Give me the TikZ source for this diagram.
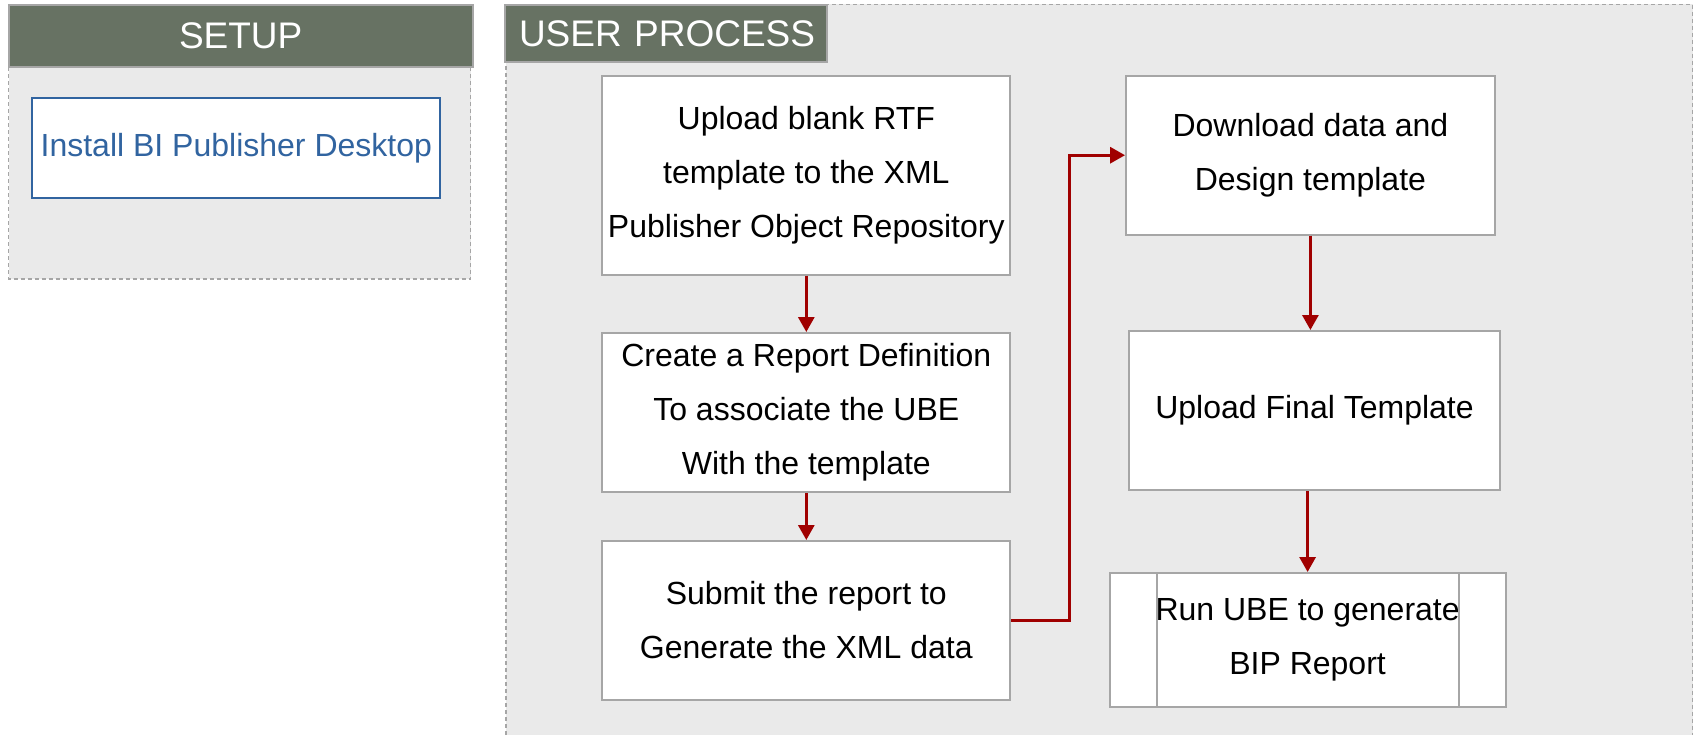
\documentclass[tikz,border=0pt]{standalone}
\usepackage{fontspec}
\setmainfont{Liberation Sans}
\usepackage{xcolor}
\usetikzlibrary{calc,arrows.meta}
\definecolor{headgreen}{RGB}{103,114,99}
\definecolor{panelgray}{RGB}{234,234,234}
\definecolor{edgegray}{RGB}{166,166,166}
\definecolor{bpblue}{RGB}{49,100,160}
\definecolor{flowred}{RGB}{160,0,0}
\tikzset{
panel/.style={draw=edgegray, dash pattern=on 2pt off 1.5pt, line width=0.7pt},
head/.style={fill=headgreen, draw=edgegray, line width=1pt, text=white, inner sep=0pt, font=\fontsize{18.5}{22}\selectfont},
task/.style={draw=edgegray, fill=white, line width=1pt, align=center, inner sep=0pt, minimum width=203.9pt, minimum height=79.5pt, font=\fontsize{16}{27}\selectfont},
flow/.style={draw=flowred, line width=1.5pt, -{Triangle[width=8pt,length=7.5pt]}}
}

\begin{document}
\begin{tikzpicture}[x=0.5pt,y=-0.5pt]
\useasboundingbox (0,0) rectangle (1696,735);
\fill[panelgray] (8.7,67) rectangle (470.5,279);
\draw[panel] (8.7,67) rectangle (470.5,279);
\fill[panelgray] (506,4.3) rectangle (1692.7,735);
\draw[panel] (506,735) -- (506,4.3) -- (1692.7,4.3) -- (1692.7,735);
\node[head, minimum width=232pt, minimum height=30.85pt] (setuphead) at (240.7,36.25) {SETUP};
\node[draw=bpblue, fill=white, line width=1pt, text=bpblue, inner sep=0pt, minimum width=203.9pt, minimum height=49.75pt, font=\fontsize{16}{20}\selectfont] (install) at (236.3,148.2) {Install BI Publisher Desktop};
\node[head, minimum height=28.1pt, inner xsep=7pt, text width=147.2pt, align=left] (userhead) at (666.2,33.5) {\mbox{USER PROCESS}};
\node[task, minimum height=99.5pt] (upload) at (806.3,175.2) {Upload blank RTF\\template to the XML\\Publisher Object Repository};
\node[task] (define) at (806.3,412.5) {Create a Report Definition\\To associate the UBE\\With the template};
\node[task] (submit) at (806.3,620.5) {Submit the report to\\Generate the XML data};
\node[task, minimum width=184.35pt] (design) at (1310.4,155.2) {Download data and\\Design template};
\node[task, minimum width=185.5pt] (final) at (1314.5,410.5) {Upload Final Template};
\node[task, minimum width=197.95pt, minimum height=67.2pt] (runube) at (1307.6,640.2) {Run UBE to generate\\BIP Report};
\draw[edgegray, line width=1pt] ($(runube.north west)+(48.6,0)$) -- ($(runube.south west)+(48.6,0)$);
\draw[edgegray, line width=1pt] ($(runube.north east)+(-47.6,0)$) -- ($(runube.south east)+(-47.6,0)$);
\draw[flow] (upload) -- (define);
\draw[flow] (define) -- (submit);
\draw[flow] (submit.east) -- ++(58.4,0) |- (design.west);
\draw[flow] (design.south) -- (design.south |- final.north);
\draw[flow] (final.south -| runube.north) -- (runube.north);
\end{tikzpicture}
\end{document}
